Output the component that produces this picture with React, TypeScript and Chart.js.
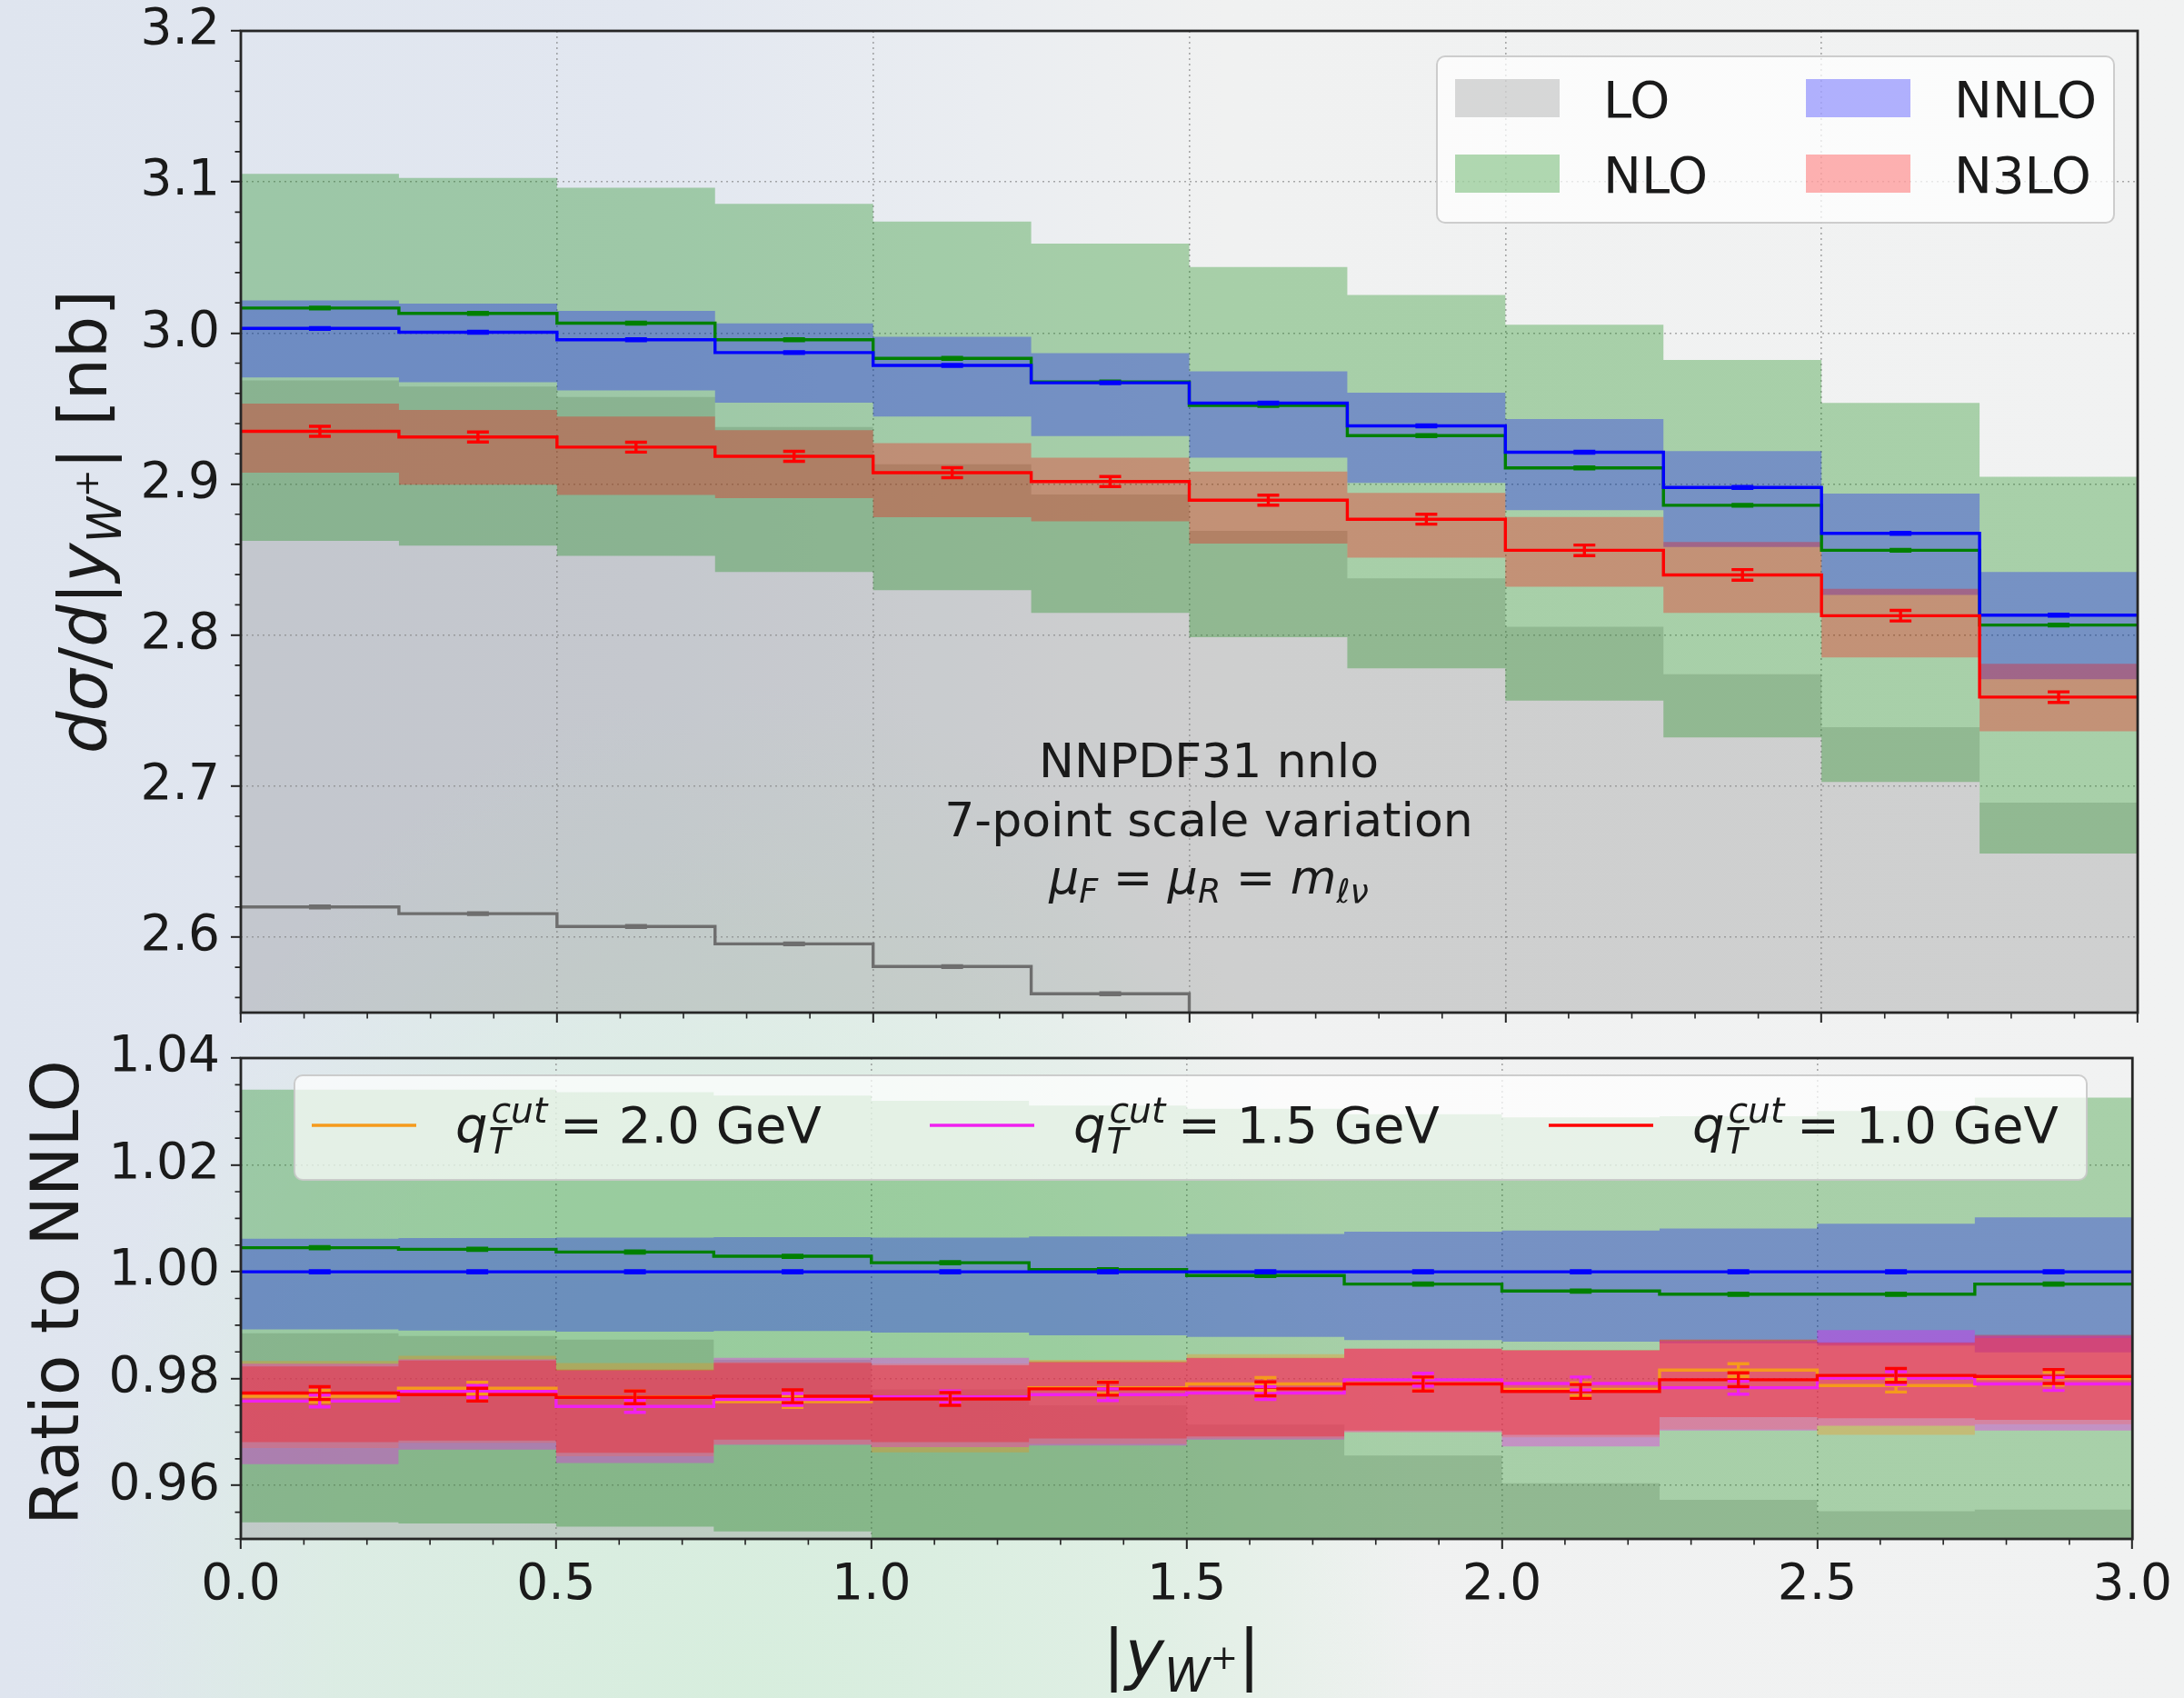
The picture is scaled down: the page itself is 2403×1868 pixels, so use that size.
import React, { useEffect, useRef } from "react";
import { Chart, registerables } from "chart.js";

Chart.register(...registerables);

// ---------------- data ----------------
const binEdges = [0, 0.25, 0.5, 0.75, 1.0, 1.25, 1.5, 1.75, 2.0, 2.25, 2.5, 2.75, 3.0];
const binCenters = [0.125, 0.375, 0.625, 0.875, 1.125, 1.375, 1.625, 1.875, 2.125, 2.375, 2.625, 2.875];

const xTicks = [0.0, 0.5, 1.0, 1.5, 2.0, 2.5, 3.0];
const yTicksTop = [2.6, 2.7, 2.8, 2.9, 3.0, 3.1, 3.2];
const yTicksRatio = [0.96, 0.98, 1.0, 1.02, 1.04];

const legendTopLabels = ["LO", "NLO", "NNLO", "N3LO"];
const legendRatioLabels = ["2.0 GeV", "1.5 GeV", "1.0 GeV"];
const annotationLines = ["NNPDF31 nnlo", "7-point scale variation"];

// top panel: d sigma / d|y|  [nb]
const loCentral = [2.620, 2.6155, 2.607, 2.5955, 2.5805, 2.5625, 2.541, 2.516, 2.488, 2.456, 2.420, 2.380];
const loUpper = [2.9686, 2.9645, 2.9576, 2.9378, 2.913, 2.893, 2.869, 2.8375, 2.8055, 2.774, 2.739, 2.689];
const loLower = [2.36, 2.355, 2.347, 2.336, 2.323, 2.307, 2.287, 2.265, 2.24, 2.21, 2.18, 2.14];

const nloCentral = [3.0165, 3.013, 3.0065, 2.9955, 2.9832, 2.9675, 2.952, 2.932, 2.9107, 2.8859, 2.8561, 2.8066];
const nloUpper = [3.1053, 3.1027, 3.0962, 3.0855, 3.0737, 3.0592, 3.0436, 3.0251, 3.0055, 2.9821, 2.9537, 2.9048];
const nloLower = [2.8624, 2.8592, 2.8525, 2.8417, 2.8297, 2.8146, 2.7985, 2.778, 2.7566, 2.7322, 2.7027, 2.6553];

const nnloCentral = [3.003, 3.0005, 2.9955, 2.987, 2.9785, 2.967, 2.9535, 2.9385, 2.921, 2.8977, 2.8673, 2.8132];
const nnloUpper = [3.0216, 3.0195, 3.0146, 3.0063, 2.9975, 2.9867, 2.9746, 2.9604, 2.943, 2.9218, 2.8936, 2.8417];
const nnloLower = [2.9706, 2.9674, 2.962, 2.9539, 2.9446, 2.9317, 2.9174, 2.9008, 2.8826, 2.8583, 2.8265, 2.7708];

const n3loCentral = [2.9349, 2.9311, 2.9244, 2.9183, 2.9075, 2.9016, 2.8893, 2.8767, 2.8561, 2.8398, 2.8128, 2.7589];
const n3loUpper = [2.9532, 2.9491, 2.9446, 2.9357, 2.9271, 2.9174, 2.9083, 2.8941, 2.8781, 2.8616, 2.8306, 2.781];
const n3loLower = [2.9075, 2.8995, 2.8928, 2.8906, 2.878, 2.8753, 2.8605, 2.8512, 2.832, 2.8146, 2.7851, 2.7362];

const errLO = [0.0006, 0.0006, 0.0006, 0.0006, 0.0006, 0.0006, 0.0006, 0.0006, 0.0006, 0.0006, 0.0006, 0.0006];
const errNLO = [0.0006, 0.0006, 0.0006, 0.0006, 0.0006, 0.0006, 0.0006, 0.0006, 0.0006, 0.0006, 0.0006, 0.0006];
const errNNLO = [0.0006, 0.0006, 0.0006, 0.0006, 0.0006, 0.0006, 0.0006, 0.0006, 0.0006, 0.0006, 0.0006, 0.0006];
const errN3LO = [0.0033, 0.0033, 0.0033, 0.0033, 0.0033, 0.0033, 0.0033, 0.0033, 0.0035, 0.0035, 0.0035, 0.0035];

// bottom panel: ratio to NNLO
const rLoUpper = [0.9885, 0.988, 0.9873, 0.9835, 0.978, 0.975, 0.9714, 0.9656, 0.9604, 0.9573, 0.9552, 0.9555];
const rLoLower = [0.786, 0.785, 0.783, 0.782, 0.78, 0.778, 0.774, 0.771, 0.767, 0.763, 0.76, 0.761];

const rNloCentral = [1.0045, 1.0042, 1.0037, 1.0029, 1.0017, 1.0004, 0.9993, 0.9977, 0.9964, 0.9958, 0.9958, 0.9977];
const rNloUpper = [1.0341, 1.0341, 1.0336, 1.033, 1.032, 1.0311, 1.0305, 1.0295, 1.0289, 1.0291, 1.0301, 1.0326];
const rNloLower = [0.9531, 0.9529, 0.9523, 0.9514, 0.95, 0.9486, 0.9475, 0.9454, 0.9437, 0.9429, 0.9426, 0.9439];

const rNnloCentral = [1.0, 1.0, 1.0, 1.0, 1.0, 1.0, 1.0, 1.0, 1.0, 1.0, 1.0, 1.0];
const rNnloUpper = [1.0062, 1.0063, 1.0064, 1.0065, 1.0064, 1.0066, 1.0071, 1.0075, 1.0077, 1.0081, 1.009, 1.0102];
const rNnloLower = [0.9892, 0.989, 0.9888, 0.9889, 0.9886, 0.9881, 0.9878, 0.9872, 0.9869, 0.9866, 0.9862, 0.9849];

const rQt20Central = [0.9767, 0.9782, 0.9766, 0.9757, 0.9764, 0.9783, 0.979, 0.979, 0.978, 0.9816, 0.9787, 0.98];
const rQt20Upper = [0.9833, 0.9843, 0.9829, 0.9831, 0.9828, 0.9835, 0.9846, 0.9856, 0.9852, 0.9873, 0.9866, 0.9876];
const rQt20Lower = [0.967, 0.968, 0.9655, 0.9677, 0.9662, 0.9678, 0.9688, 0.97, 0.969, 0.9705, 0.9695, 0.9715];

const rQt15Central = [0.9758, 0.9776, 0.9748, 0.9761, 0.9766, 0.977, 0.9773, 0.9798, 0.9791, 0.9783, 0.9801, 0.979];
const rQt15Upper = [0.9828, 0.9836, 0.9815, 0.9839, 0.9839, 0.983, 0.9838, 0.9856, 0.9852, 0.987, 0.9891, 0.988];
const rQt15Lower = [0.964, 0.9667, 0.9642, 0.9676, 0.9672, 0.9675, 0.9686, 0.97, 0.9673, 0.9703, 0.9712, 0.9703];

const rQt10Central = [0.9773, 0.977, 0.9765, 0.9767, 0.9762, 0.9781, 0.9781, 0.979, 0.9776, 0.9798, 0.9806, 0.9804];
const rQt10Upper = [0.9823, 0.9834, 0.9817, 0.9829, 0.9825, 0.9832, 0.9839, 0.9856, 0.9854, 0.9873, 0.9868, 0.9882];
const rQt10Lower = [0.9681, 0.9684, 0.9661, 0.9686, 0.9681, 0.9688, 0.9692, 0.9703, 0.9695, 0.9728, 0.9726, 0.9723];

const rErrNLO = [0.0002, 0.0002, 0.0002, 0.0002, 0.0002, 0.0002, 0.0002, 0.0002, 0.0002, 0.0002, 0.0002, 0.0002];
const rErrNNLO = [0.0002, 0.0002, 0.0002, 0.0002, 0.0002, 0.0002, 0.0002, 0.0002, 0.0002, 0.0002, 0.0002, 0.0002];
const rErrQt20 = [0.0011, 0.0011, 0.0011, 0.0011, 0.0011, 0.0011, 0.0012, 0.0012, 0.0012, 0.0012, 0.0012, 0.0012];
const rErrQt15 = [0.0011, 0.0011, 0.0011, 0.0011, 0.0011, 0.0011, 0.0012, 0.0012, 0.0012, 0.0012, 0.0012, 0.0012];
const rErrQt10 = [0.0012, 0.0012, 0.0012, 0.0012, 0.0012, 0.0012, 0.0013, 0.0013, 0.0013, 0.0013, 0.0013, 0.0013];

// ---------------- styles ----------------
const FONT = "'DejaVu Sans', sans-serif";
const TEXT = "#1a1a1a";
const C_LO = "#6e6e6e";
const C_NLO = "#008000";
const C_NNLO = "#0000ff";
const C_N3LO = "#ff0000";
const C_Q20 = "#f59a1c";
const C_Q15 = "#f020f0";
const C_Q10 = "#ff0000";
const B_LO = "rgba(128,128,128,0.3)";
const B_NLO = "rgba(0,128,0,0.3)";
const B_NNLO = "rgba(0,0,255,0.3)";
const B_N3LO = "rgba(255,0,0,0.3)";
const B_Q20 = "rgba(255,140,0,0.3)";
const B_Q15 = "rgba(255,0,255,0.3)";
const B_Q10 = "rgba(255,0,0,0.3)";

const W = 2403;
const TOP_H = 1160;
const BOT_TOP = 1130;
const BOT_H = 738;
const LINE_W = 3.4;

type Seg = { t?: string; it?: boolean; s?: number; dy?: number; sub?: string; sup?: string };

function fontStr(size: number, italic?: boolean) {
  return `${italic ? "italic " : ""}${size.toFixed(1)}px ${FONT}`;
}

function segWidth(ctx: CanvasRenderingContext2D, seg: Seg, size: number) {
  if (seg.sub !== undefined || seg.sup !== undefined) {
    ctx.font = fontStr(size * 0.7, true);
    const a = ctx.measureText(seg.sub || "").width;
    const b = ctx.measureText(seg.sup || "").width;
    return Math.max(a, b);
  }
  ctx.font = fontStr(size * (seg.s || 1), seg.it);
  return ctx.measureText(seg.t || "").width;
}

function drawRich(ctx: CanvasRenderingContext2D, segs: Seg[], x: number, y: number, size: number, align: "left" | "center", color = TEXT) {
  ctx.save();
  ctx.fillStyle = color;
  ctx.textAlign = "left";
  ctx.textBaseline = "alphabetic";
  const widths = segs.map((s) => segWidth(ctx, s, size));
  const total = widths.reduce((a, b) => a + b, 0);
  let cx = align === "center" ? x - total / 2 : x;
  segs.forEach((s, i) => {
    if (s.sub !== undefined || s.sup !== undefined) {
      ctx.font = fontStr(size * 0.7, true);
      if (s.sub) ctx.fillText(s.sub, cx + 1, y + 0.22 * size);
      if (s.sup) ctx.fillText(s.sup, cx + 4, y - 0.4 * size);
    } else {
      ctx.font = fontStr(size * (s.s || 1), s.it);
      ctx.fillText(s.t || "", cx, y + (s.dy || 0) * size);
    }
    cx += widths[i];
  });
  ctx.restore();
}

function stepData(vals: number[]) {
  return binEdges.map((x, i) => ({ x, y: vals[Math.min(i, vals.length - 1)] }));
}

function bandSets(lower: number[], upper: number[], color: string) {
  const common = {
    type: "line" as const,
    stepped: "before" as const,
    pointRadius: 0,
    pointHoverRadius: 0,
    borderWidth: 0,
    borderColor: "rgba(0,0,0,0)",
  };
  return [
    { ...common, data: stepData(lower), fill: false },
    { ...common, data: stepData(upper), fill: "-1", backgroundColor: color },
  ];
}

function lineSet(vals: number[], color: string) {
  return {
    type: "line" as const,
    stepped: "before" as const,
    pointRadius: 0,
    pointHoverRadius: 0,
    borderWidth: LINE_W,
    borderColor: color,
    fill: false,
    data: stepData(vals),
  };
}

function withOrder(sets: any[]) {
  return sets.map((d, i) => ({ ...d, order: 1000 - i }));
}

function minorValues(from: number, to: number, step: number, majorStep: number) {
  const out: number[] = [];
  const n = Math.round((to - from) / step);
  for (let i = 0; i <= n; i++) {
    const v = from + i * step;
    const r = v / majorStep;
    if (Math.abs(r - Math.round(r)) > 1e-6) out.push(v);
  }
  return out;
}

const gridOpts = {
  color: "rgba(105,105,105,0.55)",
  lineWidth: 1.6,
  drawTicks: true,
  tickLength: 11,
  tickWidth: 2,
  tickColor: "#222",
};
const borderOpts = { display: false, dash: [2, 4] };

function drawFrame(chart: any) {
  const { ctx, chartArea: a } = chart;
  ctx.save();
  ctx.strokeStyle = "#262626";
  ctx.lineWidth = 2.8;
  ctx.strokeRect(a.left, a.top, a.right - a.left, a.bottom - a.top);
  ctx.restore();
}

function drawMinor(chart: any, xs: number[], ys: number[]) {
  const { ctx, chartArea: a, scales } = chart;
  ctx.save();
  ctx.strokeStyle = "#222";
  ctx.lineWidth = 1.6;
  ctx.beginPath();
  xs.forEach((v) => {
    const px = scales.x.getPixelForValue(v);
    ctx.moveTo(px, a.bottom);
    ctx.lineTo(px, a.bottom + 6.5);
  });
  ys.forEach((v) => {
    const py = scales.y.getPixelForValue(v);
    ctx.moveTo(a.left, py);
    ctx.lineTo(a.left - 6.5, py);
  });
  ctx.stroke();
  ctx.restore();
}

function drawErrorBars(chart: any, specs: { values: number[]; errs: number[]; color: string }[]) {
  const { ctx, chartArea: a, scales } = chart;
  ctx.save();
  ctx.beginPath();
  ctx.rect(a.left, a.top, a.right - a.left, a.bottom - a.top);
  ctx.clip();
  specs.forEach((sp) => {
    ctx.strokeStyle = sp.color;
    ctx.lineWidth = LINE_W;
    binCenters.forEach((c, i) => {
      const px = scales.x.getPixelForValue(c);
      const y1 = scales.y.getPixelForValue(sp.values[i] - sp.errs[i]);
      const y2 = scales.y.getPixelForValue(sp.values[i] + sp.errs[i]);
      ctx.beginPath();
      ctx.moveTo(px, y1);
      ctx.lineTo(px, y2);
      ctx.moveTo(px - 12, y1);
      ctx.lineTo(px + 12, y1);
      ctx.moveTo(px - 12, y2);
      ctx.lineTo(px + 12, y2);
      ctx.stroke();
    });
  });
  ctx.restore();
}

function legendBox(ctx: CanvasRenderingContext2D, x: number, y: number, w: number, h: number) {
  ctx.save();
  ctx.beginPath();
  (ctx as any).roundRect(x, y, w, h, 9);
  ctx.fillStyle = "rgba(255,255,255,0.72)";
  ctx.fill();
  ctx.strokeStyle = "rgba(200,200,200,0.9)";
  ctx.lineWidth = 2;
  ctx.stroke();
  ctx.restore();
}

const topPlugin = {
  id: "topDecor",
  afterDatasetsDraw(chart: any) {
    const ctx: CanvasRenderingContext2D = chart.ctx;
    drawErrorBars(chart, [
      { values: loCentral, errs: errLO, color: C_LO },
      { values: nloCentral, errs: errNLO, color: C_NLO },
      { values: nnloCentral, errs: errNNLO, color: C_NNLO },
      { values: n3loCentral, errs: errN3LO, color: C_N3LO },
    ]);
    drawFrame(chart);
    drawMinor(chart, minorValues(0, 3, 0.1, 0.5), minorValues(2.56, 3.2, 0.02, 0.1));

    // legend
    legendBox(ctx, 1581, 62, 745, 183);
    const items = [
      { label: legendTopLabels[0], color: B_LO, x: 1601, y: 87 },
      { label: legendTopLabels[1], color: B_NLO, x: 1601, y: 170 },
      { label: legendTopLabels[2], color: B_NNLO, x: 1987, y: 87 },
      { label: legendTopLabels[3], color: B_N3LO, x: 1987, y: 170 },
    ];
    items.forEach((it) => {
      ctx.save();
      ctx.fillStyle = it.color;
      ctx.fillRect(it.x, it.y, 115, 42);
      ctx.restore();
      drawRich(ctx, [{ t: it.label }], it.x + 163, it.y + 42, 56, "left");
    });

    // annotation
    const cx = 1330;
    drawRich(ctx, [{ t: annotationLines[0] }], cx, 855, 52, "center");
    drawRich(ctx, [{ t: annotationLines[1] }], cx, 920, 52, "center");
    drawRich(
      ctx,
      [
        { t: "\u03bc", it: true },
        { t: "F", it: true, s: 0.7, dy: 0.2 },
        { t: " = " },
        { t: "\u03bc", it: true },
        { t: "R", it: true, s: 0.7, dy: 0.2 },
        { t: " = " },
        { t: "m", it: true },
        { t: "\u2113\u03bd", it: true, s: 0.7, dy: 0.2 },
      ],
      cx,
      983,
      52,
      "center"
    );

    // y title
    ctx.save();
    ctx.translate(117, 574);
    ctx.rotate(-Math.PI / 2);
    drawRich(
      ctx,
      [
        { t: "d\u03c3", it: true },
        { t: "/" },
        { t: "d", it: true },
        { t: "|" },
        { t: "y", it: true },
        { t: "W", it: true, s: 0.7, dy: 0.22 },
        { t: "+", s: 0.5, dy: -0.12 },
        { t: "|" },
        { t: " [nb]" },
      ],
      0,
      0,
      73,
      "center"
    );
    ctx.restore();
  },
};

const botPlugin = {
  id: "botDecor",
  afterDatasetsDraw(chart: any) {
    const ctx: CanvasRenderingContext2D = chart.ctx;
    drawErrorBars(chart, [
      { values: rNloCentral, errs: rErrNLO, color: C_NLO },
      { values: rNnloCentral, errs: rErrNNLO, color: C_NNLO },
      { values: rQt20Central, errs: rErrQt20, color: C_Q20 },
      { values: rQt15Central, errs: rErrQt15, color: C_Q15 },
      { values: rQt10Central, errs: rErrQt10, color: C_Q10 },
    ]);
    drawFrame(chart);
    drawMinor(chart, minorValues(0, 3, 0.1, 0.5), minorValues(0.95, 1.04, 0.005, 0.02));

    // legend
    legendBox(ctx, 324, 53, 1972, 115);
    const items = [
      { label: legendRatioLabels[0], color: C_Q20, x: 343 },
      { label: legendRatioLabels[1], color: C_Q15, x: 1023 },
      { label: legendRatioLabels[2], color: C_Q10, x: 1704 },
    ];
    items.forEach((it) => {
      ctx.save();
      ctx.strokeStyle = it.color;
      ctx.lineWidth = 3.5;
      ctx.beginPath();
      ctx.moveTo(it.x, 108);
      ctx.lineTo(it.x + 115, 108);
      ctx.stroke();
      ctx.restore();
      drawRich(ctx, [{ t: "q", it: true }, { sub: "T", sup: "cut" }, { t: " = " + it.label }], it.x + 158, 127, 56, "left");
    });

    // y title
    ctx.save();
    ctx.translate(86, 292);
    ctx.rotate(-Math.PI / 2);
    drawRich(ctx, [{ t: "Ratio to NNLO" }], 0, 0, 73, "center");
    ctx.restore();

    // x title
    drawRich(
      ctx,
      [
        { t: "|" },
        { t: "y", it: true },
        { t: "W", it: true, s: 0.7, dy: 0.22 },
        { t: "+", s: 0.5, dy: -0.12 },
        { t: "|" },
      ],
      1300,
      715,
      73,
      "center"
    );
  },
};

function xScale(labels: boolean, height: number) {
  return {
    type: "linear" as const,
    min: 0,
    max: 3,
    afterBuildTicks: (s: any) => {
      s.ticks = xTicks.map((v) => ({ value: v }));
    },
    afterFit: (s: any) => {
      s.height = height;
    },
    ticks: {
      autoSkip: false,
      maxRotation: 0,
      padding: 13,
      color: TEXT,
      font: { family: FONT, size: 55, lineHeight: 1 },
      callback: (v: any) => (labels ? Number(v).toFixed(1) : ""),
    },
    grid: gridOpts,
    border: borderOpts,
  };
}

function yScale(min: number, max: number, ticks: number[], digits: number) {
  return {
    type: "linear" as const,
    min,
    max,
    afterBuildTicks: (s: any) => {
      s.ticks = ticks.map((v) => ({ value: v }));
    },
    afterFit: (s: any) => {
      s.width = 265;
    },
    ticks: {
      padding: 12,
      color: TEXT,
      font: { family: FONT, size: 55, lineHeight: 0.8 },
      callback: (v: any) => Number(v).toFixed(digits),
    },
    grid: gridOpts,
    border: borderOpts,
  };
}

function baseOptions(padTop: number, xs: any, ys: any) {
  return {
    animation: false as const,
    responsive: false,
    maintainAspectRatio: false,
    devicePixelRatio: 1,
    events: [],
    layout: { padding: { left: 0, right: 51, top: padTop, bottom: 0 } },
    plugins: { legend: { display: false }, tooltip: { enabled: false }, title: { display: false } },
    scales: { x: xs, y: ys },
  };
}

export default function App() {
  const topRef = useRef<HTMLCanvasElement>(null);
  const botRef = useRef<HTMLCanvasElement>(null);

  useEffect(() => {
    const topSets = withOrder([
      ...bandSets(loLower, loUpper, B_LO),
      ...bandSets(nloLower, nloUpper, B_NLO),
      ...bandSets(nnloLower, nnloUpper, B_NNLO),
      ...bandSets(n3loLower, n3loUpper, B_N3LO),
      lineSet(loCentral, C_LO),
      lineSet(nloCentral, C_NLO),
      lineSet(nnloCentral, C_NNLO),
      lineSet(n3loCentral, C_N3LO),
    ]);
    const botSets = withOrder([
      ...bandSets(rLoLower, rLoUpper, B_LO),
      ...bandSets(rNloLower, rNloUpper, B_NLO),
      ...bandSets(rNnloLower, rNnloUpper, B_NNLO),
      ...bandSets(rQt20Lower, rQt20Upper, B_Q20),
      ...bandSets(rQt15Lower, rQt15Upper, B_Q15),
      ...bandSets(rQt10Lower, rQt10Upper, B_Q10),
      lineSet(rNloCentral, C_NLO),
      lineSet(rNnloCentral, C_NNLO),
      lineSet(rQt20Central, C_Q20),
      lineSet(rQt15Central, C_Q15),
      lineSet(rQt10Central, C_Q10),
    ]);

    const top = new Chart(topRef.current as HTMLCanvasElement, {
      type: "line",
      data: { datasets: topSets as any },
      options: baseOptions(34, xScale(false, TOP_H - 1114), yScale(2.55, 3.2, yTicksTop, 1)) as any,
      plugins: [topPlugin],
    });
    const bot = new Chart(botRef.current as HTMLCanvasElement, {
      type: "line",
      data: { datasets: botSets as any },
      options: baseOptions(25.5, xScale(true, BOT_H - 563), yScale(0.95, 1.04, yTicksRatio, 2)) as any,
      plugins: [botPlugin],
    });
    return () => {
      top.destroy();
      bot.destroy();
    };
  }, []);

  const bg = [
    "radial-gradient(ellipse 760px 1150px at 820px 1900px, rgba(214,238,220,0.95) 0%, rgba(218,239,223,0.7) 60%, rgba(225,240,228,0) 100%)",
    "linear-gradient(90deg, #dfe5ef 0%, #e2e7f0 30%, #eaedf1 45%, #f0f1f1 56%, #f1f2f2 100%)",
  ].join(", ");

  return (
    <div style={{ position: "fixed", left: 0, top: 0, width: W, height: 1868, overflow: "hidden", background: bg }}>
      <canvas
        ref={topRef}
        width={W}
        height={TOP_H}
        style={{ position: "absolute", left: 0, top: 0, width: W, height: TOP_H }}
      />
      <canvas
        ref={botRef}
        width={W}
        height={BOT_H}
        style={{ position: "absolute", left: 0, top: BOT_TOP, width: W, height: BOT_H }}
      />
    </div>
  );
}
